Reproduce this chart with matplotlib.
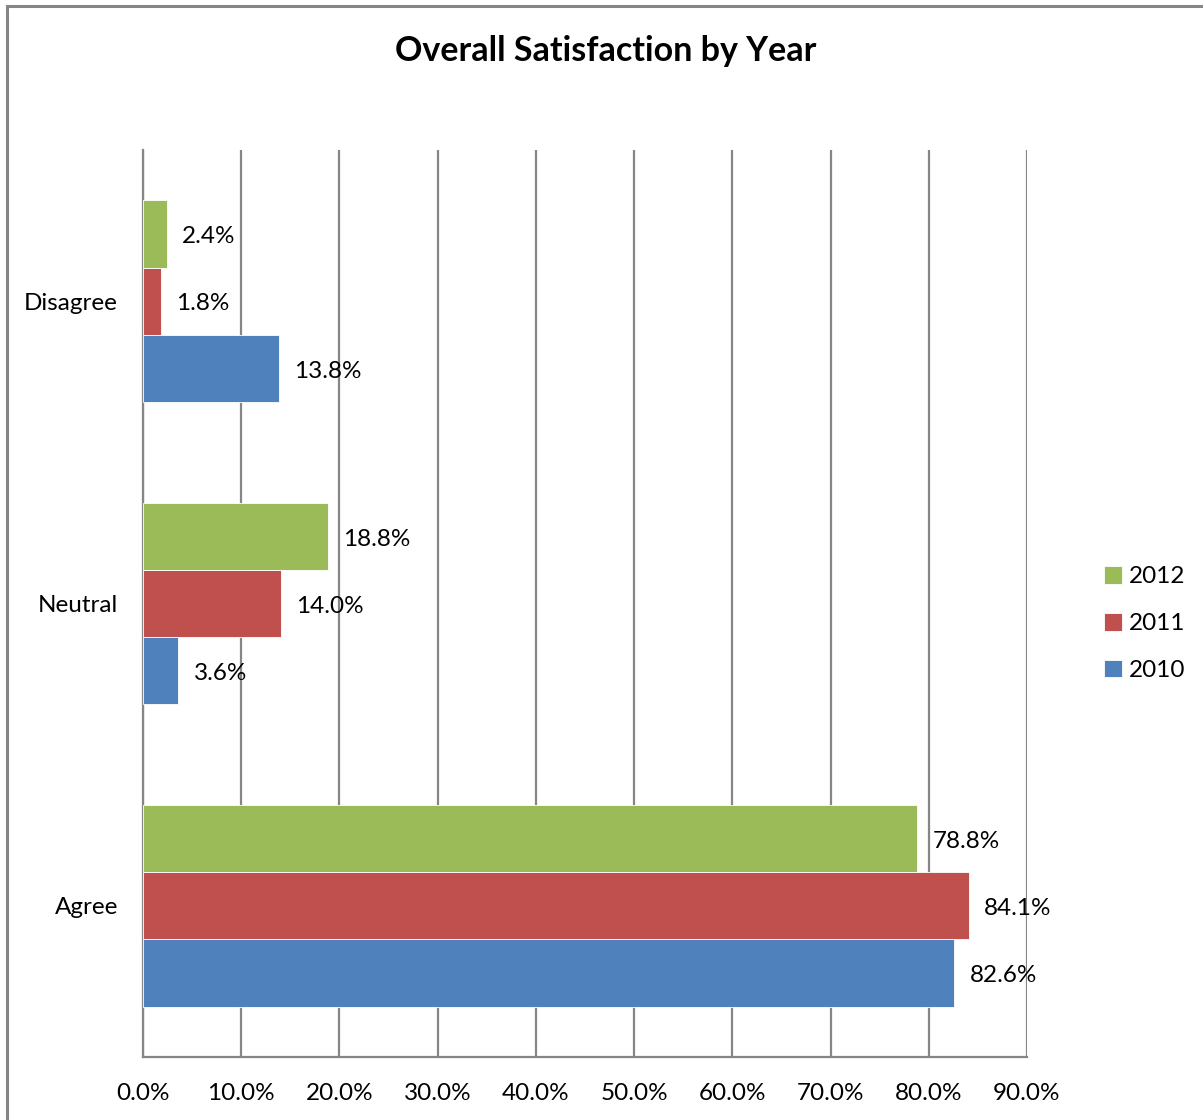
"""
Overall satisfaction by year, grouped horizontal bars
"""

import numpy as np
import matplotlib.pyplot as plt
from matplotlib.patches import Rectangle

plt.rcParams["font.family"] = ["Lato", "DejaVu Sans"]

categories = ["Agree", "Neutral", "Disagree"]
years = ["2010", "2011", "2012"]
pct_2010 = [82.6, 3.6, 13.8]
pct_2011 = [84.1, 14.0, 1.8]
pct_2012 = [78.8, 18.8, 2.4]
x_ticks = [0, 10, 20, 30, 40, 50, 60, 70, 80, 90]

series = [pct_2010, pct_2011, pct_2012]
colors = ["#4F81BD", "#C0504D", "#9BBB59"]
grid_color = "#868686"

fig = plt.figure(figsize=(12.03, 11.2), dpi=100)
# outer chart frame
fig.patches.append(
    Rectangle((7 / 1203, -0.1), 1.2, 1 - 6 / 1120 + 0.1, transform=fig.transFigure,
              fill=False, edgecolor="#868686", linewidth=2.2)
)

ax = fig.add_axes([143 / 1203, 1 - 1057 / 1120, (1027 - 143) / 1203, (1057 - 150) / 1120])

y = np.arange(len(categories))
bar_h = 0.222
for i, (vals, year, col) in enumerate(zip(series, years, colors)):
    pos = y + (i - 1) * bar_h
    ax.barh(pos, vals, height=bar_h, color=col, edgecolor="white", linewidth=0.6,
            label=year, zorder=3)
    for p, v in zip(pos, vals):
        ax.annotate(f"{v:.1f}%", (v, p), xytext=(11, -2), textcoords="offset points",
                    va="center", ha="left", fontsize=17.5, zorder=4)

ax.set_xlim(0, 90)
ax.set_ylim(-0.5, 2.5)
ax.set_xticks(x_ticks)
ax.set_xticklabels([f"{t:.1f}%" for t in x_ticks], fontsize=17.5)
ax.set_yticks(y)
ax.set_yticklabels(categories, fontsize=17.5)
ax.tick_params(length=0)
ax.tick_params(axis="x", pad=19)
ax.tick_params(axis="y", pad=18)

ax.grid(axis="x", color=grid_color, linewidth=1.6, zorder=0)
for s in ["top", "right"]:
    ax.spines[s].set_visible(False)
for s in ["left", "bottom"]:
    ax.spines[s].set_color(grid_color)
    ax.spines[s].set_linewidth(1.6)

handles, labels = ax.get_legend_handles_labels()
ax.legend(handles[::-1], labels[::-1], loc="center left", bbox_to_anchor=(1.062, 0.478),
          frameon=False, fontsize=17.5, handlelength=0.75, handleheight=0.75,
          handletextpad=0.3, labelspacing=1.05)

fig.text(606 / 1203, 1 - 51 / 1120, "Overall Satisfaction by Year", ha="center",
         va="center", fontsize=24.5, fontweight="bold")

fig.savefig("out.png", dpi=100)
